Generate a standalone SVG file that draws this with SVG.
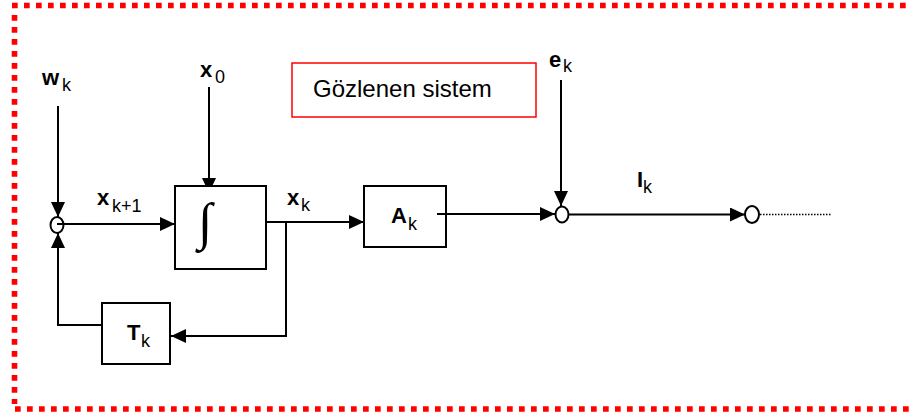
<svg xmlns="http://www.w3.org/2000/svg" width="910" height="414" viewBox="0 0 910 414">
<defs>
<style>
.border{stroke:#ff0000;stroke-width:5.6;stroke-dasharray:5.7 6.3;fill:none}
.box{fill:#fff;stroke:#000;stroke-width:2}
.junc{fill:#fff;stroke:#000;stroke-width:2}
.wire{fill:none;stroke:#000;stroke-width:2}
.arr{marker-end:url(#ah)}
.dot{fill:none;stroke:#000;stroke-width:1.5;stroke-dasharray:1.5 1.5}
text{font-family:"Liberation Sans",Arial,sans-serif;fill:#000}
.b{font-weight:bold;font-size:22px}
.s{font-size:18px}
.lbl{font-size:24px}
.int{font-family:"Liberation Serif","Times New Roman",serif;font-size:52px}
</style>
<marker id="ah" viewBox="0 0 15 14" refX="15" refY="7" markerWidth="15" markerHeight="14" markerUnits="userSpaceOnUse" orient="auto">
<path d="M0,0 L15,7 L0,14 z" fill="#000"/>
</marker>
</defs>
<rect width="910" height="414" fill="#fff"/>
<g id="border">
<line class="border" x1="12" y1="5.5" x2="912" y2="5.5"/>
<line class="border" x1="14.5" y1="15" x2="14.5" y2="404"/>
<line class="border" x1="15" y1="409" x2="912" y2="409"/>
</g>
<g id="connectors">
<line class="wire arr" x1="58" y1="106" x2="58" y2="217"/>
<polyline class="wire arr" points="102,325 58,325 58,233"/>
<line class="wire arr" x1="57" y1="224" x2="175" y2="224"/>
<line class="wire arr" x1="209" y1="87" x2="209" y2="193"/>
<line class="wire arr" x1="266" y1="222" x2="364" y2="222"/>
<polyline class="wire arr" points="286,222 286,336 171,336"/>
<line class="wire arr" x1="437" y1="214" x2="555" y2="214"/>
<line class="wire arr" x1="561" y1="80" x2="561" y2="206"/>
<line class="wire arr" x1="569" y1="214.5" x2="745" y2="214.5"/>
<line class="dot" x1="760" y1="214.5" x2="832" y2="214.5"/>
</g>
<g id="sum1"><ellipse class="junc" cx="57" cy="225" rx="6.5" ry="8" style="fill:none"/><line class="wire" x1="57" y1="224" x2="64" y2="224"/></g>
<g id="integrator"><rect class="box" x="175" y="186" width="91" height="83"/><text class="int" x="198" y="239">∫</text></g>
<g id="A"><rect class="box" x="364" y="186" width="82" height="61"/><line class="wire" x1="437" y1="214" x2="446" y2="214"/><text x="391" y="223"><tspan class="b">A</tspan><tspan class="s" x="408" y="230">k</tspan></text></g>
<g id="T"><rect class="box" x="102" y="303" width="68" height="61"/><text x="127" y="340"><tspan class="b">T</tspan><tspan class="s" x="141" y="347">k</tspan></text></g>
<g id="sum2"><ellipse class="junc" cx="562" cy="214.5" rx="6.5" ry="8"/></g>
<g id="sum3"><ellipse class="junc" cx="752" cy="214.5" rx="7" ry="8.5"/></g>
<g id="title"><rect x="292" y="63" width="244" height="54" fill="#fff" stroke="#ff0000" stroke-width="1.5"/><text class="lbl" x="313" y="97">Gözlenen sistem</text></g>
<g id="labels">
<text x="42" y="85"><tspan class="b">w</tspan><tspan class="s" x="62" y="91">k</tspan></text>
<text x="200" y="77"><tspan class="b">x</tspan><tspan class="s" x="215" y="83">0</tspan></text>
<text x="97" y="205"><tspan class="b">x</tspan><tspan class="s" x="112" y="212">k+1</tspan></text>
<text x="287" y="205"><tspan class="b">x</tspan><tspan class="s" x="301" y="211">k</tspan></text>
<text x="549" y="67"><tspan class="b">e</tspan><tspan class="s" x="563" y="72">k</tspan></text>
<text x="637" y="187"><tspan class="b">I</tspan><tspan class="s" x="643" y="193">k</tspan></text>
</g>
</svg>
